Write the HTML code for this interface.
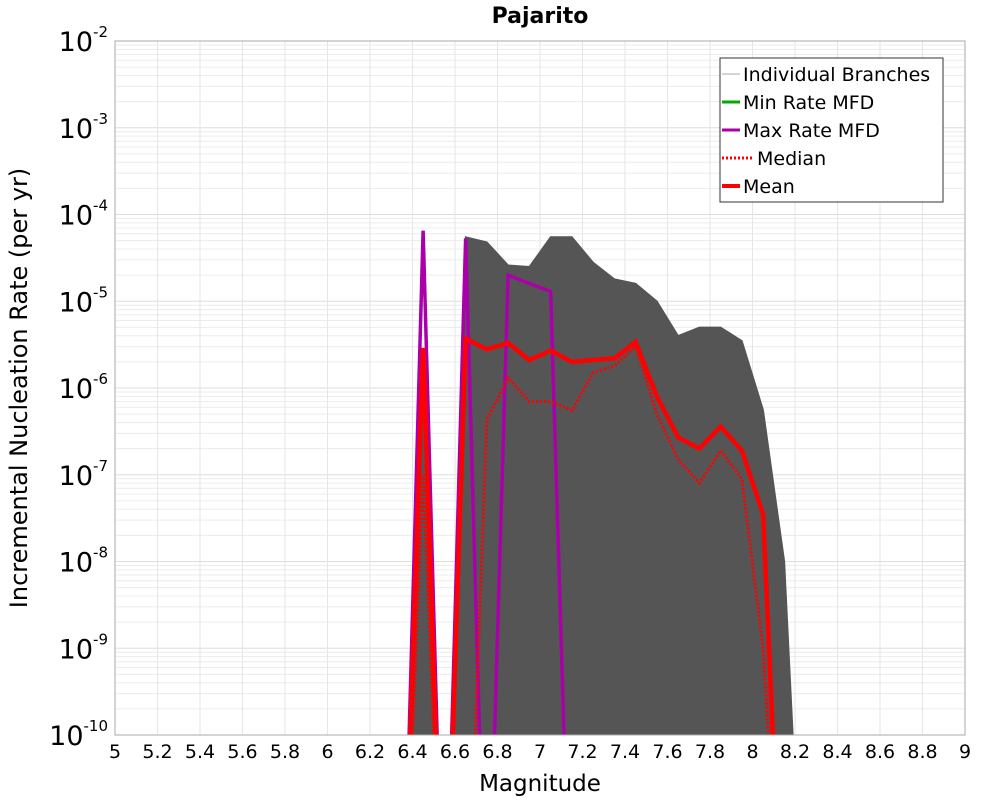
<!DOCTYPE html>
<html><head><meta charset="utf-8"><style>
html,body{margin:0;background:#fff;overflow:hidden;width:1000px;height:800px;font-family:"Liberation Sans","DejaVu Sans",sans-serif}
svg{display:block}
svg text{font-family:"DejaVu Sans","Liberation Sans",sans-serif}
</style></head><body>
<svg id="chart" width="1000" height="800">
<text x="540" y="23" text-anchor="middle" font-size="22" font-weight="bold">Pajarito</text>
<g id="grid"></g>
<g id="series"></g>
<rect x="115" y="41" width="850" height="694" fill="none" stroke="#aaa"/>
<g id="axes"></g>
<text x="540" y="791" text-anchor="middle" font-size="23">Magnitude</text>
<text transform="translate(27,388) rotate(-90)" text-anchor="middle" font-size="24">Incremental Nucleation Rate (per yr)</text>
<g>
<rect x="720" y="58" width="223" height="144" fill="#fff" stroke="#333"/>
<line x1="722" y1="74" x2="740" y2="74" stroke="#aaa" stroke-width="1"/>
<text x="743" y="81" font-size="19">Individual Branches</text>
<line x1="722" y1="102" x2="740" y2="102" stroke="#00aa00" stroke-width="3"/>
<text x="743" y="109" font-size="19">Min Rate MFD</text>
<line x1="722" y1="130" x2="740" y2="130" stroke="#aa00aa" stroke-width="3"/>
<text x="743" y="137" font-size="19">Max Rate MFD</text>
<line x1="722" y1="158" x2="752" y2="158" stroke="#f00" stroke-width="3" stroke-dasharray="2,2"/>
<text x="757" y="165" font-size="19">Median</text>
<line x1="722" y1="186" x2="740" y2="186" stroke="#f00" stroke-width="4"/>
<text x="743" y="193" font-size="19">Mean</text>
</g>
</svg>
<script>
const xTicks=[5,5.2,5.4,5.6,5.8,6,6.2,6.4,6.6,6.8,7,7.2,7.4,7.6,7.8,8,8.2,8.4,8.6,8.8,9];
const yDecades=[-2,-3,-4,-5,-6,-7,-8,-9,-10];
const mags=[6.35,6.45,6.55,6.65,6.75,6.85,6.95,7.05,7.15,7.25,7.35,7.45,7.55,7.65,7.75,7.85,7.95,8.05,8.15,8.25];
const meanVals=[1e-13,2.9e-6,1e-13,3.7e-6,2.8e-6,3.3e-6,2.1e-6,2.7e-6,2.0e-6,2.1e-6,2.2e-6,3.4e-6,8e-7,2.7e-7,2.0e-7,3.6e-7,1.9e-7,3.5e-8,1e-13,1e-13];
const medianVals=[1e-13,1e-7,1e-13,1e-13,4.3e-7,1.3e-6,7e-7,7e-7,5.5e-7,1.5e-6,1.8e-6,3.0e-6,5e-7,1.5e-7,8e-8,1.9e-7,9e-8,1e-9,1e-13,1e-13];
const maxVals=[1e-13,6.5e-5,1e-13,5.3e-5,1e-13,2e-5,1.6e-5,1.3e-5,1e-13,1e-13,1e-13,1e-13,1e-13,1e-13,1e-13,1e-13,1e-13,1e-13,1e-13,1e-13];
const minVals=[1e-13,1e-13,1e-13,1e-13,1e-13,1e-13,1e-13,1e-13,1e-13,1e-13,1e-13,1e-13,1e-13,1e-13,1e-13,1e-13,1e-13,1e-13,1e-13,1e-13];
const branchUpper=[1e-13,1.5e-6,1e-13,5.5e-5,4.8e-5,2.6e-5,2.5e-5,5.5e-5,5.5e-5,2.8e-5,1.8e-5,1.6e-5,1.0e-5,4e-6,5e-6,5e-6,3.5e-6,5.6e-7,1e-8,1e-13];
const NS='http://www.w3.org/2000/svg';
const X0=115,X1=965,Y0=41,Y1=735;
const xs=m=>X0+(m-5)/4*(X1-X0);
const ys=v=>Y0+(-2-Math.log10(v))/8*(Y1-Y0);
function mk(t,p,a){const e=document.createElementNS(NS,t);for(const k in a)e.setAttribute(k,a[k]);p.appendChild(e);return e;}
const grid=document.getElementById('grid'),axes=document.getElementById('axes'),ser=document.getElementById('series');
for(const d of yDecades){for(let k=1;k<10;k++){if(d===-2&&k>1)continue;const y=ys(k*Math.pow(10,d));
const l=mk('line',grid,{x1:X0,x2:X1,y1:y,y2:y,stroke:k===1?'#ddd':'#ececec','stroke-width':1});

}
const t=mk('text',axes,{x:108,y:ys(Math.pow(10,d))+10,'text-anchor':'end','font-size':27});


t.innerHTML='10<tspan font-size="15" dy="-14">'+d+'</tspan>';}
for(const m of xTicks){const x=xs(m);
const l=mk('line',grid,{x1:x,x2:x,y1:Y0,y2:Y1,stroke:'#e6e6e6','stroke-width':1});


const t=mk('text',axes,{x:x,y:758,'text-anchor':'middle','font-size':19});


t.textContent=String(m);}
const clip=mk('clipPath',ser,{id:'pc'});mk('rect',clip,{x:X0,y:Y0,width:X1-X0,height:Y1-Y0});
const g=mk('g',ser,{'clip-path':'url(#pc)'});
function pts(vals){return mags.map((m,i)=>xs(m)+','+ys(vals[i])).join(' ');}
const env=mk('polygon',g,{points:pts(branchUpper),fill:'#555',stroke:'#555','stroke-width':1.5});


function line(vals,name,color,w,dash){const p=mk('polyline',g,{points:pts(vals),fill:'none',stroke:color,'stroke-width':w,'stroke-linejoin':'miter'});
if(dash)p.setAttribute('stroke-dasharray',dash);

}
line(minVals,'min-rate-line','#00aa00',3);
line(maxVals,'max-rate-line','#aa00aa',3.5);
line(medianVals,'median-line','#f00',3,'2,2');
line(meanVals,'mean-line','#f00',4.5);
</script>
</body></html>
